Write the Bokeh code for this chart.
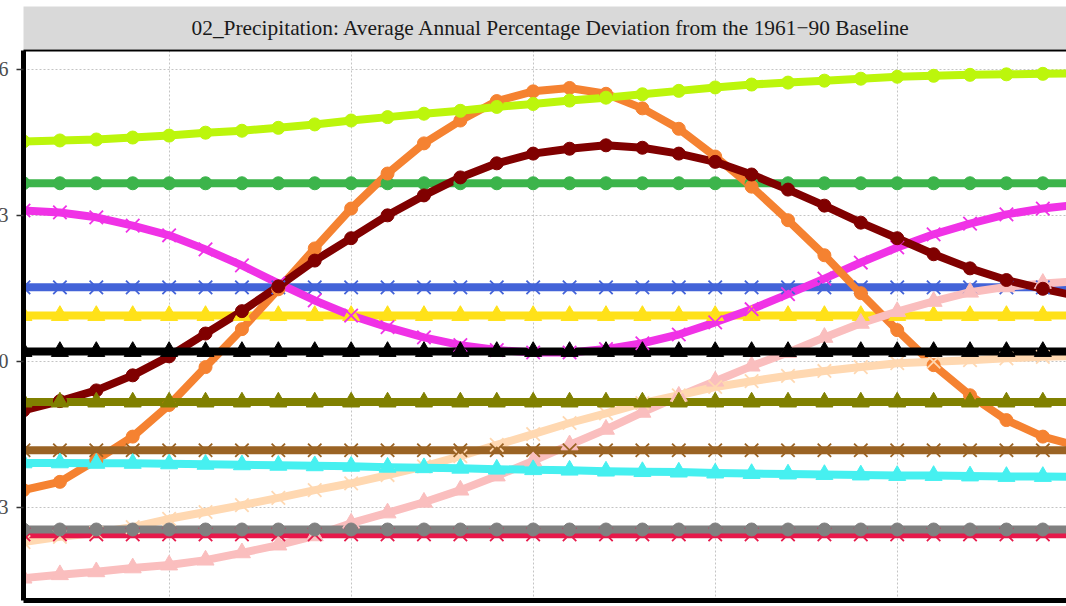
from bokeh.plotting import figure
from bokeh.layouts import column
from bokeh.models import Range1d, FixedTicker, SingleIntervalTicker, LinearAxis, Grid
from bokeh.core.properties import value
from bokeh.embed import file_html
from bokeh.resources import INLINE

# ---------------- data ----------------
years = list(range(2006, 2036))
title_text = "02_Precipitation: Average Annual Percentage Deviation from the 1961\u221290 Baseline"
y_ticks = [-3, 0, 3, 6]
y_tick_labels = {-3: "\u22123", 0: "0", 3: "3", 6: "6"}

lime = [4.52, 4.54, 4.56, 4.60, 4.64, 4.70, 4.74, 4.80, 4.87, 4.95,
        5.02, 5.09, 5.15, 5.23, 5.29, 5.36, 5.42, 5.49, 5.56, 5.63,
        5.69, 5.73, 5.77, 5.81, 5.85, 5.87, 5.89, 5.90, 5.91, 5.92]
orange = [-2.65, -2.48, -2.03, -1.55, -0.90, -0.12, 0.66, 1.48, 2.32, 3.14,
          3.86, 4.48, 4.95, 5.35, 5.55, 5.62, 5.50, 5.20, 4.78, 4.21,
          3.59, 2.90, 2.18, 1.40, 0.64, -0.08, -0.70, -1.21, -1.55, -1.75]
maroon = [-1.01, -0.82, -0.60, -0.29, 0.10, 0.57, 1.03, 1.54, 2.07, 2.53,
          3.00, 3.41, 3.78, 4.07, 4.27, 4.37, 4.44, 4.39, 4.27, 4.10,
          3.84, 3.53, 3.20, 2.85, 2.53, 2.20, 1.91, 1.67, 1.49, 1.33]
magenta = [3.10, 3.06, 2.96, 2.79, 2.59, 2.30, 1.97, 1.60, 1.25, 0.94,
           0.70, 0.49, 0.33, 0.23, 0.18, 0.18, 0.25, 0.37, 0.55, 0.80,
           1.07, 1.38, 1.70, 2.03, 2.34, 2.61, 2.83, 3.02, 3.14, 3.22]
cyan = [-2.09, -2.09, -2.10, -2.10, -2.11, -2.12, -2.13, -2.14, -2.15, -2.16,
        -2.18, -2.19, -2.20, -2.22, -2.23, -2.24, -2.26, -2.27, -2.28, -2.30,
        -2.31, -2.32, -2.33, -2.34, -2.35, -2.35, -2.36, -2.37, -2.37, -2.38]
apricot = [-3.72, -3.61, -3.53, -3.41, -3.24, -3.10, -2.96, -2.81, -2.65, -2.51,
           -2.34, -2.16, -1.95, -1.72, -1.50, -1.27, -1.07, -0.86, -0.70, -0.53,
           -0.41, -0.30, -0.20, -0.12, -0.04, -0.01, 0.02, 0.06, 0.09, 0.11]
pink = [-4.46, -4.39, -4.33, -4.25, -4.19, -4.09, -3.94, -3.78, -3.59, -3.33,
        -3.12, -2.90, -2.65, -2.36, -2.05, -1.72, -1.40, -1.05, -0.72, -0.41,
        -0.10, 0.18, 0.49, 0.78, 1.02, 1.23, 1.42, 1.53, 1.60, 1.65]
green = [3.66] * len(years)
blue = [1.52] * len(years)
yellow = [0.94] * len(years)
black = [0.20] * len(years)
olive = [-0.84] * len(years)
brown = [-1.83] * len(years)
grey = [-3.46] * len(years)
red = [-3.56] * len(years)

# drawing order (bottom -> top), colour, marker
series = [
    (green, "#3cb44b", "circle"),
    (yellow, "#ffe119", "triangle"),
    (blue, "#4363d8", "x"),
    (magenta, "#f032e6", "x"),
    (orange, "#f58231", "circle"),
    (pink, "#fabebe", "triangle"),
    (maroon, "#800000", "circle"),
    (lime, "#bcf60c", "circle"),
    (apricot, "#ffd8b1", "x"),
    (black, "#000000", "triangle"),
    (olive, "#808000", "triangle"),
    (brown, "#9a6324", "x"),
    (cyan, "#46f0f0", "triangle"),
    (red, "#e6194b", "x"),
    (grey, "#808080", "circle"),
]

# ---------------- layout ----------------
FONT = "Liberation Serif"
LEFT = 40
W = 1083
x_range = Range1d(years[0], years[0] + 28.65)
y_range = Range1d(-4.92, 6.39)

strip = figure(width=W, height=43, x_range=x_range, y_range=Range1d(0, 1),
               x_axis_type=None, y_axis_type=None, toolbar_location=None,
               output_backend="svg", min_border_left=LEFT, min_border_right=0,
               min_border_top=0, min_border_bottom=0)
strip.background_fill_color = "#d9d9d9"
strip.border_fill_color = "white"
strip.outline_line_color = None
strip.grid.visible = False
strip.text(x=[(years[0] + years[-1]) / 2], y=[0.5], text=[title_text],
           text_align="center", text_baseline="middle",
           text_font=value(FONT), text_font_size="21.4px", text_color="#1a1a1a")

p = figure(width=W, height=557, x_range=x_range, y_range=y_range,
           x_axis_type=None, y_axis_type=None, toolbar_location=None,
           output_backend="svg", min_border_left=LEFT, min_border_right=0,
           min_border_top=1, min_border_bottom=6)
p.background_fill_color = "white"
p.border_fill_color = "white"
p.outline_line_color = None

yaxis = LinearAxis(ticker=FixedTicker(ticks=y_ticks),
                   major_label_overrides=y_tick_labels,
                   major_label_text_font=FONT, major_label_text_font_size="20px",
                   major_label_text_color="#4d4d4d", major_label_standoff=8,
                   major_tick_out=7, major_tick_in=0, major_tick_line_color="#333333",
                   major_tick_line_width=1.5, minor_tick_line_color=None,
                   axis_line_color="black", axis_line_width=5)
p.add_layout(yaxis, "left")

xaxis = LinearAxis(ticker=FixedTicker(ticks=[]), major_tick_out=0, major_tick_in=0,
                   minor_tick_out=0, minor_tick_in=0, major_label_standoff=0,
                   major_tick_line_color=None, minor_tick_line_color=None,
                   axis_line_color="black", axis_line_width=5)
p.add_layout(xaxis, "below")

top_line = LinearAxis(ticker=FixedTicker(ticks=[]), major_tick_out=0, major_tick_in=0,
                      minor_tick_out=0, minor_tick_in=0, major_label_standoff=0,
                      major_tick_line_color=None, minor_tick_line_color=None,
                      axis_line_color="black", axis_line_width=2)
p.add_layout(top_line, "above")

p.add_layout(Grid(dimension=0, ticker=SingleIntervalTicker(interval=5),
                  grid_line_color="#c4c4c4", grid_line_dash="2 2", grid_line_width=1))
p.add_layout(Grid(dimension=1, ticker=FixedTicker(ticks=y_ticks),
                  grid_line_color="#c4c4c4", grid_line_dash="2 2", grid_line_width=1))

for vals, col, mk in series:
    p.line(years, vals, line_color=col, line_width=8, line_join="round")
for vals, col, mk in series:
    if mk == "circle":
        p.scatter(years, vals, marker="circle", size=13, fill_color=col, line_color=col)
    elif mk == "triangle":
        p.scatter(years, vals, marker="triangle", size=17, fill_color=col, line_color=col)
    else:
        p.scatter(years, vals, marker="x", size=19, line_color=col, line_width=1.8)

layout = column(strip, p, spacing=0, margin=(6, 0, 0, -17))

open("out.html", "w").write(file_html(layout, INLINE))
